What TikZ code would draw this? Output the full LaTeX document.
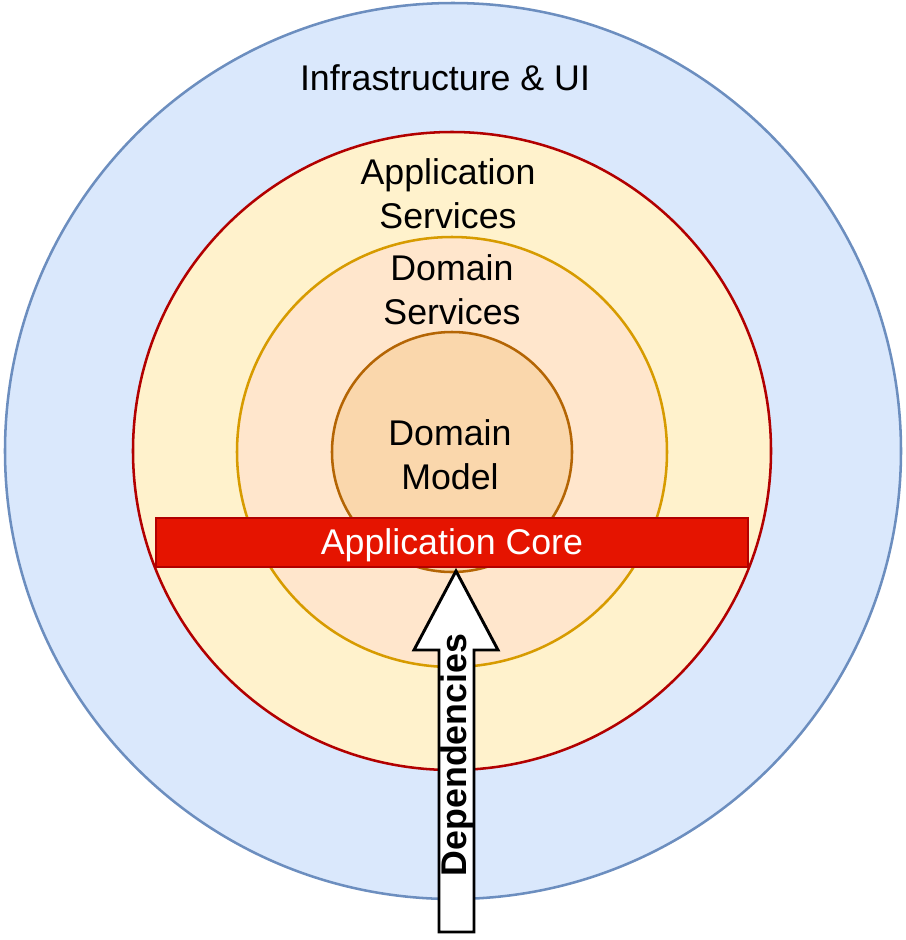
\documentclass[tikz,border=0pt]{standalone}
\usepackage{fontspec}
\setmainfont{Liberation Sans}
\definecolor{InfraClr}{HTML}{DAE8FC}
\definecolor{InfraLineClr}{HTML}{6C8EBF}
\definecolor{AppClr}{HTML}{FFF2CC}
\definecolor{AppLineClr}{HTML}{B20000}
\definecolor{DomSrvClr}{HTML}{FFE6CC}
\definecolor{DomSrvLineClr}{HTML}{D79B00}
\definecolor{ModelClr}{HTML}{FAD7AC}
\definecolor{ModelLineClr}{HTML}{B46504}
\definecolor{CoreClr}{HTML}{E51400}

\begin{document}
\begin{tikzpicture}[x=0.75pt,y=-0.75pt,
  ring/.style={line width=1.9pt},
  lbl/.style={align=center,font=\fontsize{26.8}{33}\selectfont,inner sep=0pt}]
\useasboundingbox (0,0) rectangle (906,940);

% layers, outside in
\draw[ring,fill=InfraClr,draw=InfraLineClr] (453,451) circle (448);
\draw[ring,fill=AppClr,draw=AppLineClr] (452,451) circle (319);
\draw[ring,fill=DomSrvClr,draw=DomSrvLineClr] (452,452) circle (215);
\draw[ring,fill=ModelClr,draw=ModelLineClr] (452,452) circle (120);

\node[lbl] (infra) at (445,78) {Infrastructure \& UI};
\node[lbl] (appsrv) at (448,194) {Application\\Services};
\node[lbl] (domsrv) at (452,290) {Domain\\Services};
\node[lbl] (model) at (450,455) {Domain\\Model};

% core bar
\draw[ring,fill=CoreClr,draw=AppLineClr] (156,518) rectangle (748,567);
\node[lbl,text=white] (core) at (452,545) {Application Core};

% dependency arrow
\draw[line width=2.2pt,fill=white,line join=miter]
  (456,571) -- (498,650) -- (474,650) -- (474,932) -- (439,932)
  -- (439,650) -- (414,650) -- cycle;
\node[lbl,rotate=90,font=\fontsize{26.8}{33}\selectfont\bfseries] (deps) at (457,755) {Dependencies};
\end{tikzpicture}
\end{document}
